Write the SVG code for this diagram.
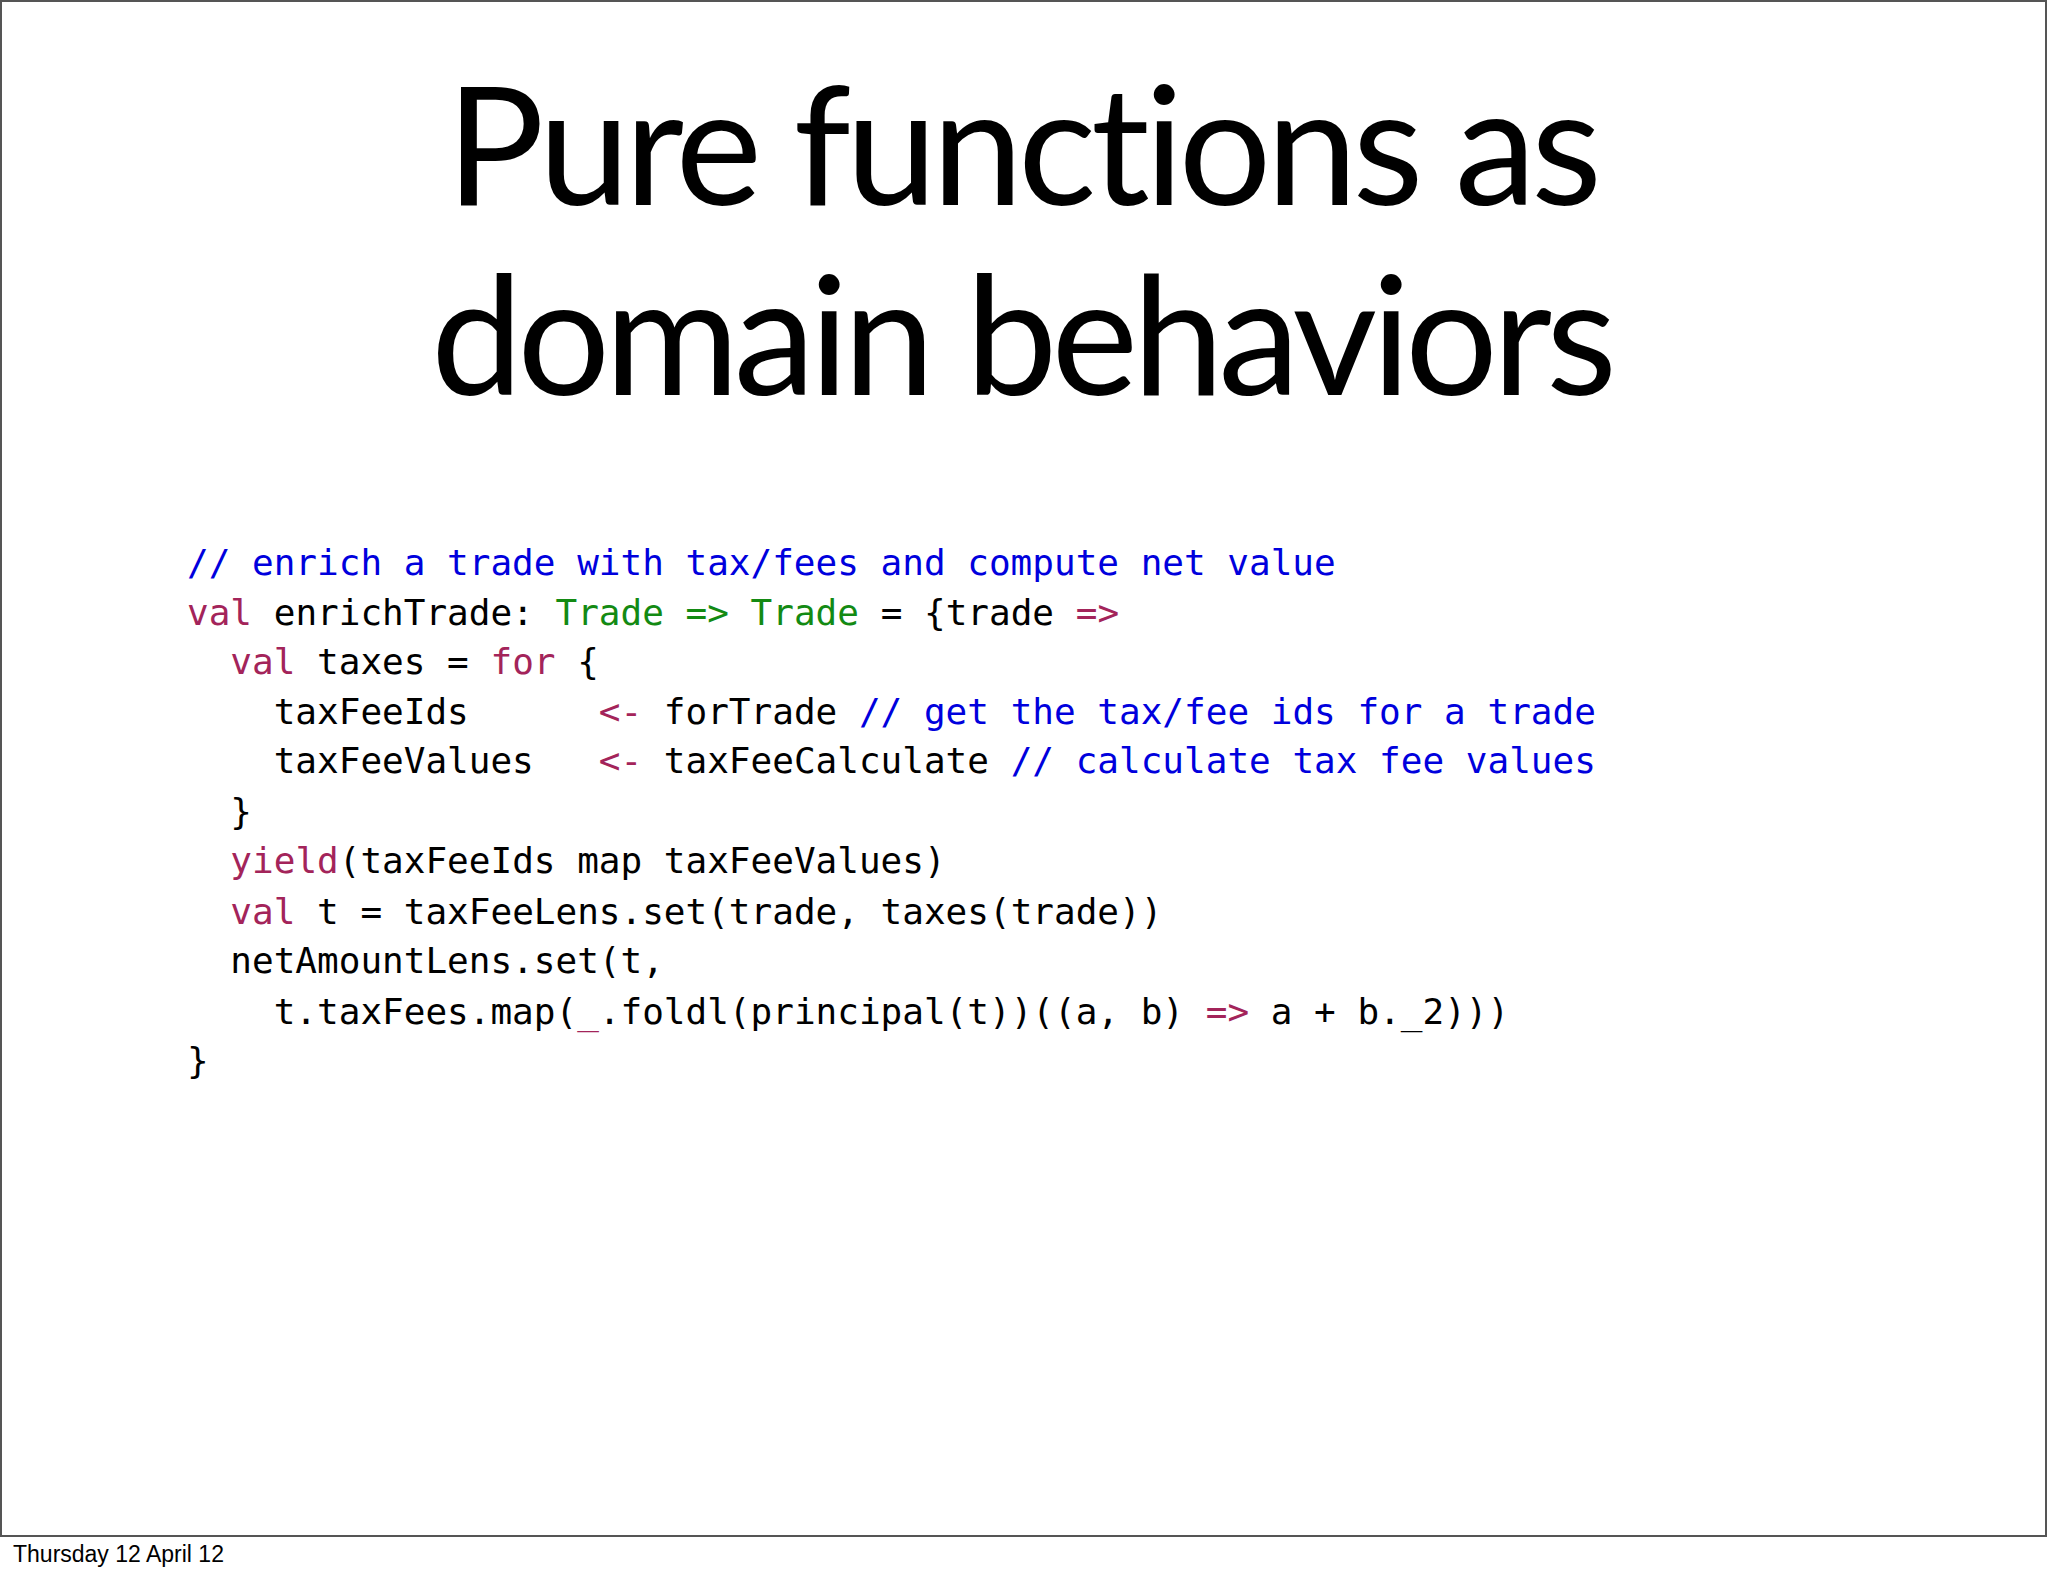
<svg xmlns="http://www.w3.org/2000/svg" width="2048" height="1576" viewBox="0 0 2048 1576" xml:space="preserve">
<style>
.t{font-family:"Lato","Open Sans",sans-serif;font-size:164px;fill:#000;text-anchor:middle;font-variant-ligatures:none}
.c{font-family:"DejaVu Sans Mono","Liberation Mono",monospace;font-size:36px;fill:#000;white-space:pre}
.k{fill:#a3245a}.g{fill:#138a13}.b{fill:#0000dd}
</style>
<rect x="0" y="0" width="2048" height="1576" fill="#fff"/>
<rect x="1" y="1" width="2045" height="1535" fill="none" stroke="#555" stroke-width="2"/>
<g id="title">
<text class="t" x="1024" y="205" textLength="1156" lengthAdjust="spacing">Pure functions as</text>
<text class="t" x="1024" y="395" textLength="1186" lengthAdjust="spacing">domain behaviors</text>
</g>
<g id="code" class="c">
<text x="187" y="575" xml:space="preserve"><tspan class="b">// enrich a trade with tax/fees and compute net value</tspan></text>
<text x="187" y="625" xml:space="preserve"><tspan class="k">val</tspan> enrichTrade: <tspan class="g">Trade</tspan> <tspan class="g">=&gt;</tspan> <tspan class="g">Trade</tspan> = {trade <tspan class="k">=&gt;</tspan></text>
<text x="187" y="674" xml:space="preserve">  <tspan class="k">val</tspan> taxes = <tspan class="k">for</tspan> {</text>
<text x="187" y="724" xml:space="preserve">    taxFeeIds      <tspan class="k">&lt;-</tspan> forTrade <tspan class="b">// get the tax/fee ids for a trade</tspan></text>
<text x="187" y="773" xml:space="preserve">    taxFeeValues   <tspan class="k">&lt;-</tspan> taxFeeCalculate <tspan class="b">// calculate tax fee values</tspan></text>
<text x="187" y="824" xml:space="preserve">  }</text>
<text x="187" y="873" xml:space="preserve">  <tspan class="k">yield</tspan>(taxFeeIds map taxFeeValues)</text>
<text x="187" y="924" xml:space="preserve">  <tspan class="k">val</tspan> t = taxFeeLens.set(trade, taxes(trade))</text>
<text x="187" y="973" xml:space="preserve">  netAmountLens.set(t,</text>
<text x="187" y="1024" xml:space="preserve">    t.taxFees.map(<tspan class="k">_</tspan>.foldl(principal(t))((a, b) <tspan class="k">=&gt;</tspan> a + b._2)))</text>
<text x="187" y="1073" xml:space="preserve">}</text>
</g>
<text x="13" y="1562" font-family="Liberation Sans,Arial,sans-serif" font-size="23">Thursday 12 April 12</text>
</svg>
